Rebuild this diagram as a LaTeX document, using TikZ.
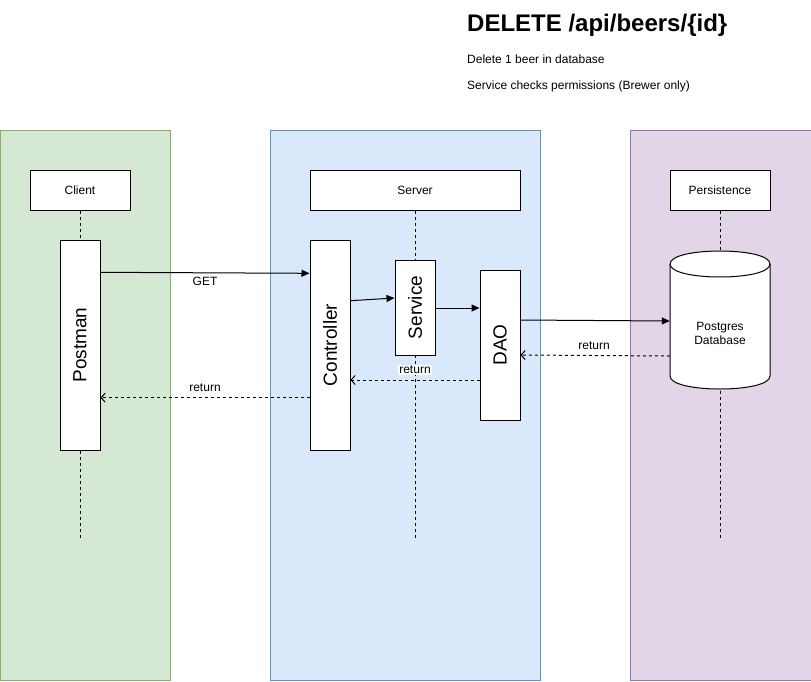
\documentclass[tikz,border=0pt]{standalone}
\usepackage{fontspec}
\setmainfont{Liberation Sans}
\usetikzlibrary{arrows.meta}
\definecolor{gfill}{HTML}{D5E8D4}\definecolor{gline}{HTML}{82B366}
\definecolor{bfill}{HTML}{DAE8FC}\definecolor{bline}{HTML}{6C8EBF}
\definecolor{pfill}{HTML}{E1D5E7}\definecolor{pline}{HTML}{9673A6}
\tikzset{
  small/.style={font=\fontsize{12}{14}\selectfont},
  big/.style={font=\fontsize{19}{21}\selectfont},
  lane/.style={line width=1pt},
  hdr/.style={draw, fill=white, line width=1pt, inner sep=0pt, small},
  act/.style={draw, fill=white, line width=1pt, inner sep=0pt, minimum width=40pt},
  life/.style={line width=1pt, dash pattern=on 3pt off 3pt},
  call/.style={line width=1pt, -{Triangle[length=8pt,width=7pt]}},
  ret/.style={line width=1pt, dash pattern=on 3pt off 3pt, -{Straight Barb[length=4pt,width=9pt]}},
  lbl/.style={small, inner sep=1pt},
}
\begin{document}
\begin{tikzpicture}[x=1pt,y=-1pt]
\useasboundingbox (0,0) rectangle (811,681);
% lanes
\draw[lane, fill=gfill, draw=gline] (0,130) rectangle (170,680);
\draw[lane, fill=bfill, draw=bline] (270,130) rectangle (540,680);
\draw[lane, fill=pfill, draw=pline] (630,130) rectangle (811,680);
% title
\node[anchor=base west, inner sep=0pt, font=\fontsize{24}{28}\selectfont\bfseries] (title) at (467,31) {DELETE /api/beers/\{id\}};
\node[anchor=base west, inner sep=0pt, small] (d1) at (467,63) {Delete 1 beer in database};
\node[anchor=base west, inner sep=0pt, small] (d2) at (467,89) {Service checks permissions (Brewer only)};
% headers
\node[hdr, minimum width=100pt, minimum height=40pt] (client) at (80,190) {Client};
\node[hdr, minimum width=210pt, minimum height=40pt] (server) at (415,190) {Server};
\node[hdr, minimum width=100pt, minimum height=40pt] (pers) at (720,190) {Persistence};
% lifelines
\coordinate (cend) at (80,540);
\coordinate (send) at (415,540);
\coordinate (pend) at (720,540);
\draw[life] (client.south) -- (cend);
\draw[life] (server.south) -- (send);
\draw[life] (pers.south) -- (pend);
% activations
\node[act, minimum height=210pt] (postman) at (80,345) {};
\node[rotate=90, big] at (postman.center) {Postman};
\node[act, minimum height=210pt] (ctrl) at (330,345) {};
\node[rotate=90, big] at (ctrl.center) {Controller};
\node[act, minimum height=95pt] (svc) at (415,307.5) {};
\node[rotate=90, big] at (svc.center) {Service};
\node[act, minimum height=150pt] (dao) at (500,345) {};
\node[rotate=90, big] at (dao.center) {DAO};
% database cylinder
\draw[line width=1pt, fill=white] (670,264) -- (670,376) .. controls (670,393.33) and (770,393.33) .. (770,376) -- (770,264) .. controls (770,246.67) and (670,246.67) .. (670,264) -- cycle;
\draw[line width=1pt] (670,264) .. controls (670,281.33) and (770,281.33) .. (770,264);
\node[minimum width=100pt, minimum height=140pt, inner sep=0pt] (db) at (720,320) {};
\node[small, align=center] at (720,333) {Postgres\\Database};
% calls
\draw[call] ([yshift=72.7pt]postman.east) -- ([yshift=71.7pt]ctrl.west);
\node[lbl] at (205,281) {GET};
\draw[call] ([yshift=44.3pt]ctrl.east) -- ([yshift=9.5pt]svc.west);
\draw[call] ([yshift=-0.5pt]svc.east) -- ([yshift=37pt]dao.west);
\draw[call] ([yshift=25pt]dao.east) -- ([yshift=-1pt]db.west);
% returns
\draw[ret] ([yshift=-36pt]db.west) -- ([yshift=-10pt]dao.east);
\node[lbl] at (594,346) {return};
\draw[ret] ([yshift=-35pt]dao.west) -- ([yshift=-35pt]ctrl.east);
\node[lbl, fill=white] at (415,370) {return};
\draw[ret] ([yshift=-52.7pt]ctrl.west) -- ([yshift=-52.7pt]postman.east);
\node[lbl] at (205,388) {return};
\end{tikzpicture}
\end{document}
